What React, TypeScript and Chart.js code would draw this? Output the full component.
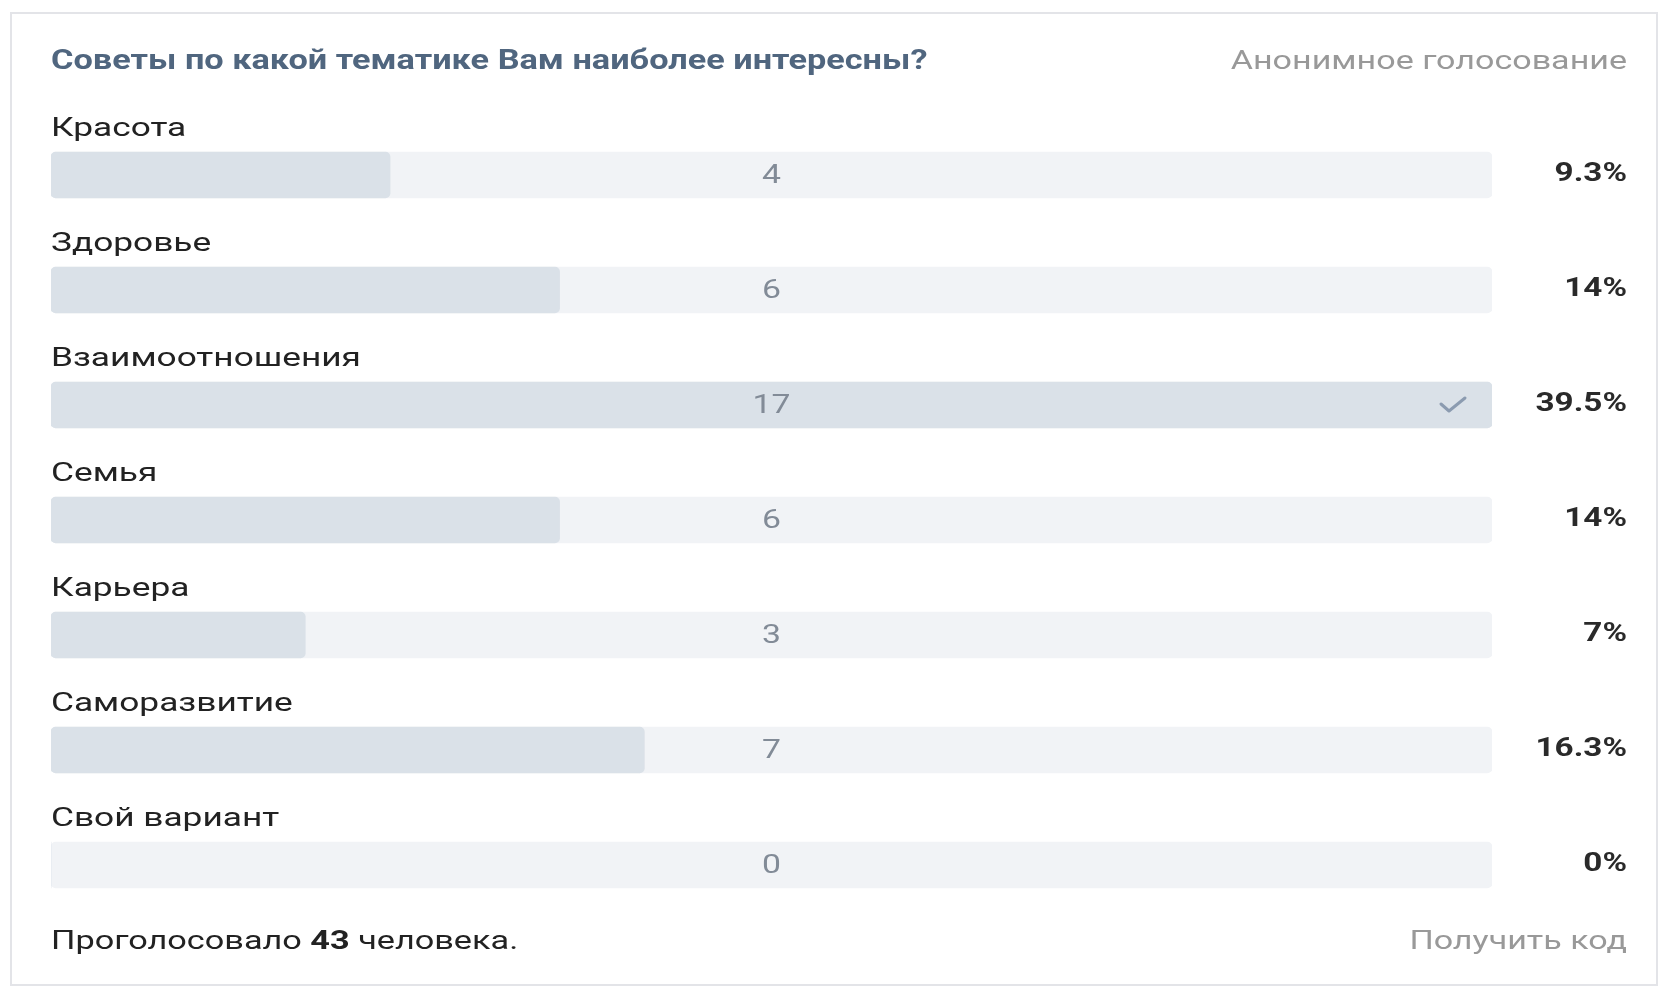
import React, { useEffect, useRef } from "react";
import { Chart, registerables } from "chart.js";
Chart.register(...registerables);

const question = "Советы по какой тематике Вам наиболее интересны?";
const pollType = "Анонимное голосование";
const categories = ["Красота", "Здоровье", "Взаимоотношения", "Семья", "Карьера", "Саморазвитие", "Свой вариант"];
const votes = [4, 6, 17, 6, 3, 7, 0];
const percentLabels = ["9.3%", "14%", "39.5%", "14%", "7%", "16.3%", "0%"];
const totalVoters = 43;
const chosenIndex = 2;
const footerPrefix = "Проголосовало ";
const footerSuffix = " человека.";
const getCodeLabel = "Получить код";

const FONT = "Roboto, 'Noto Sans', sans-serif";

function txt(ctx: CanvasRenderingContext2D, s: string, x: number, y: number, font: string, color: string, align: CanvasTextAlign, sx: number) {
  ctx.save();
  ctx.font = font;
  ctx.fillStyle = color;
  ctx.textAlign = align;
  ctx.textBaseline = "middle";
  ctx.translate(x, y);
  ctx.scale(sx, 1);
  ctx.fillText(s, 0, 0);
  ctx.restore();
}

const pollPlugin = {
  id: "pollPlugin",
  beforeDraw(chart: any) {
    const { ctx, width, height } = chart;
    ctx.save();
    ctx.fillStyle = "#ffffff";
    ctx.fillRect(0, 0, width, height);
    ctx.strokeStyle = "#e3e4e8";
    ctx.lineWidth = 2;
    ctx.strokeRect(11, 13, 1646, 972);
    ctx.restore();
  },
  afterDatasetsDraw(chart: any) {
    const { ctx, chartArea } = chart;
    const xs = chart.scales.x;
    const ys = chart.scales.y;
    const left = chartArea.left;
    const right = chartArea.right;
    const mid = (xs.getPixelForValue(0) + xs.getPixelForValue(xs.max)) / 2;
    const labelFont = `400 25px ${FONT}`;
    categories.forEach((c, i) => {
      const yc = ys.getPixelForValue(i);
      txt(ctx, c, left, yc - 45, labelFont, "#222222", "left", 1.41);
      txt(ctx, String(votes[i]), mid, yc + 2, `400 25px ${FONT}`, "#828b97", "center", 1.35);
      txt(ctx, percentLabels[i], right + 135, yc, `700 25px ${FONT}`, "#2a2a2a", "right", 1.33);
      if (i === chosenIndex) {
        ctx.save();
        ctx.strokeStyle = "#8b9bb0";
        ctx.lineWidth = 3;
        ctx.lineCap = "round";
        ctx.lineJoin = "round";
        const cx = right - 39;
        ctx.beginPath();
        ctx.moveTo(cx - 12, yc - 1);
        ctx.lineTo(cx - 4, yc + 6);
        ctx.lineTo(cx + 12, yc - 7);
        ctx.stroke();
        ctx.restore();
      }
    });
    const top = chartArea.top;
    txt(ctx, question, left, top - 55, `700 27px ${FONT}`, "#50667f", "left", 1.27);
    txt(ctx, pollType, right + 135, top - 55, `400 26px ${FONT}`, "#999999", "right", 1.31);
    const fy = chartArea.bottom + 20;
    const fsx = 1.37;
    ctx.save();
    ctx.font = `400 25px ${FONT}`;
    const w1 = ctx.measureText(footerPrefix).width * fsx;
    ctx.font = `700 25px ${FONT}`;
    const w2 = ctx.measureText(String(totalVoters)).width * fsx;
    ctx.restore();
    txt(ctx, footerPrefix, left, fy, `400 25px ${FONT}`, "#222222", "left", fsx);
    txt(ctx, String(totalVoters), left + w1, fy, `700 25px ${FONT}`, "#222222", "left", fsx);
    txt(ctx, footerSuffix, left + w1 + w2, fy, `400 25px ${FONT}`, "#222222", "left", fsx);
    txt(ctx, getCodeLabel, right + 135, fy, `400 26px ${FONT}`, "#999999", "right", 1.31);
  },
};

export default function App() {
  const ref = useRef<HTMLCanvasElement | null>(null);
  useEffect(() => {
    if (!ref.current) return;
    const maxVotes = Math.max(...votes);
    const chart = new Chart(ref.current, {
      type: "bar",
      data: {
        labels: categories,
        datasets: [
          {
            label: "votes",
            data: votes,
            backgroundColor: "#dae1e8",
            borderRadius: 5,
            borderSkipped: false,
            barThickness: 46,
            grouped: false,
          } as any,
          {
            label: "track",
            data: votes.map(() => maxVotes),
            backgroundColor: "#f1f3f6",
            borderRadius: 5,
            borderSkipped: false,
            barThickness: 46,
            grouped: false,
          } as any,
        ],
      },
      options: {
        indexAxis: "y",
        animation: false,
        responsive: true,
        maintainAspectRatio: false,
        layout: { padding: { left: 51, right: 179, top: 117.5, bottom: 65.5 } },
        plugins: { legend: { display: false }, tooltip: { enabled: false }, title: { display: false } },
        scales: {
          x: { display: false, min: 0, max: maxVotes },
          y: { display: false, offset: true },
        },
      },
      plugins: [pollPlugin],
    });
    return () => chart.destroy();
  }, []);
  return (
    <div style={{ position: "fixed", left: 0, top: 0, width: 1671, height: 988, background: "#fff" }}>
      <canvas ref={ref} />
    </div>
  );
}
